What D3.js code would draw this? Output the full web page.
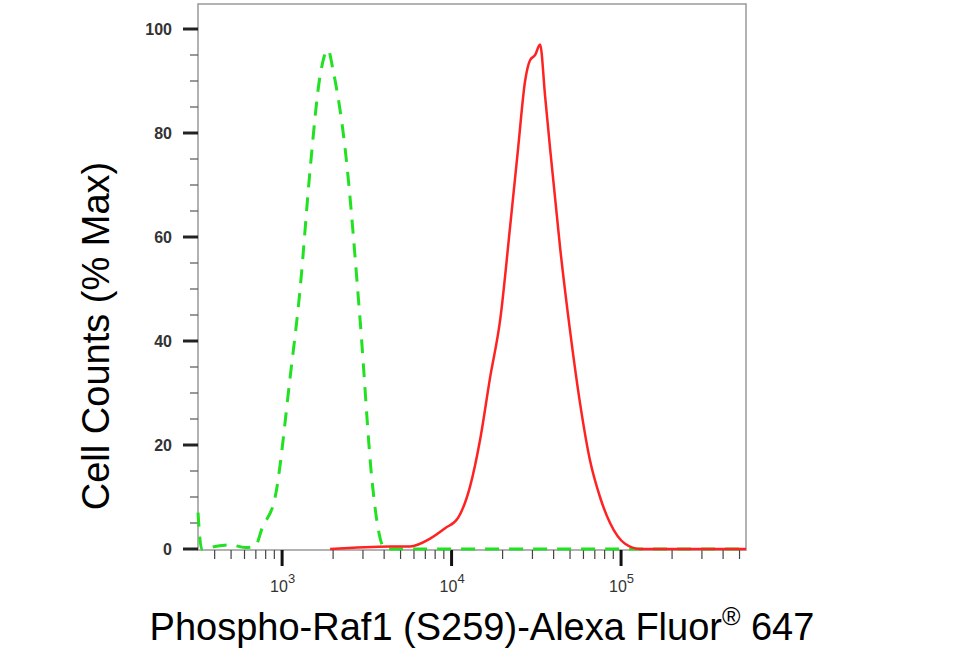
<!DOCTYPE html>
<html><head><meta charset="utf-8">
<script src="https://cdn.jsdelivr.net/npm/d3@7"></script>
<style>body{margin:0;background:#fff}</style>
</head><body><div id="chartArea"></div>
<script>
const greenX = [319, 335, 403, 493, 605, 693, 762, 910, 1115, 1277, 1463, 1676, 1867, 2000, 2354, 2886, 3397, 3684, 4055, 546000];
const greenY = [7, 0, 0.5, 0.8, 0.3, 0.5, 4, 10, 33, 50, 73, 91, 96, 92, 77, 44, 13, 4, 0, 0];
const redX = [1920, 4340, 5690, 7470, 9160, 10920, 12850, 14730, 16880, 19340, 22150, 24680, 27150, 29040, 31100, 33280, 35650, 38130, 43660, 50000, 57300, 65600, 75100, 86100, 105600, 129400, 546000];
const redY = [0, 0.5, 0.5, 2, 4, 6, 12, 21, 33, 44, 62, 77, 90, 94, 95, 97, 87, 77, 58, 42, 28, 17, 10, 5, 1, 0, 0];
const yMajor = [0, 20, 40, 60, 80, 100];
const xMajor = [1e3, 1e4, 1e5];
const xMinor = [4e2,5e2,6e2,7e2,8e2,9e2,2e3,3e3,4e3,5e3,6e3,7e3,8e3,9e3,2e4,3e4,4e4,5e4,6e4,7e4,8e4,9e4,2e5,3e5,4e5,5e5];

let width = 956, height = 658;
let plotL = 198, plotR = 746, plotT = 4, plotB = 550;

let x = d3.scaleLog().domain([319, 546000]).range([plotL, plotR]);
let y = d3.scaleLinear().domain([0, 100]).range([549, 29]);

let svg = d3.select('#chartArea').append('svg')
    .attr('width', width).attr('height', height)
    .style('font-family', 'Arial, Liberation Sans, sans-serif');

// frame
svg.append('rect').attr('x', plotL).attr('y', plotT)
    .attr('width', plotR - plotL).attr('height', plotB - plotT)
    .attr('fill', 'none').attr('stroke', '#999').attr('stroke-width', 1.5);

// y ticks
let yMinor = d3.range(0, 101, 5).filter(d => d % 20 !== 0);
svg.selectAll('.ymin').data(yMinor).enter().append('line')
    .attr('x1', plotL - 8).attr('x2', plotL)
    .attr('y1', d => y(d)).attr('y2', d => y(d))
    .attr('stroke', '#555').attr('stroke-width', 1.2);
svg.selectAll('.ymaj').data(yMajor).enter().append('line')
    .attr('x1', plotL - 15).attr('x2', plotL)
    .attr('y1', d => y(d)).attr('y2', d => y(d))
    .attr('stroke', '#222').attr('stroke-width', 3);
svg.selectAll('.ylab').data(yMajor).enter().append('text')
    .attr('x', plotL - 26).attr('y', d => y(d) + 6)
    .attr('text-anchor', 'end').attr('font-size', 16).attr('font-weight', 'bold').attr('fill', '#333')
    .text(d => d);

// x ticks
svg.selectAll('.xmin').data(xMinor).enter().append('line')
    .attr('x1', d => x(d)).attr('x2', d => x(d))
    .attr('y1', plotB).attr('y2', plotB + 9)
    .attr('stroke', '#444').attr('stroke-width', 1.2);
svg.selectAll('.xmaj').data(xMajor).enter().append('line')
    .attr('x1', d => x(d)).attr('x2', d => x(d))
    .attr('y1', plotB).attr('y2', plotB + 16)
    .attr('stroke', '#111').attr('stroke-width', 3);
let xl = svg.selectAll('.xlab').data(xMajor).enter().append('text')
    .attr('x', d => x(d) - 12).attr('y', 592)
    .attr('font-size', 16).attr('fill', '#333');
xl.append('tspan').text('10');
xl.append('tspan').attr('dy', -9).attr('font-size', 13).text(d => Math.round(Math.log10(d)));

// curves
let line = d3.line().x(d => x(d[0])).y(d => y(d[1])).curve(d3.curveMonotoneX);
svg.append('path').datum(greenX.map((v, i) => [v, greenY[i]]))
    .attr('d', line).attr('fill', 'none').attr('stroke', '#22e022')
    .attr('stroke-width', 3).attr('stroke-dasharray', '14,10');
svg.append('path').datum(redX.map((v, i) => [v, redY[i]]))
    .attr('d', line).attr('fill', 'none').attr('stroke', '#f22')
    .attr('stroke-width', 2.5);

// titles
let xt = svg.append('text').attr('x', 482).attr('y', 640)
    .attr('text-anchor', 'middle').attr('font-size', 38).attr('fill', '#000');
xt.append('tspan').text('Phospho-Raf1 (S259)-Alexa Fluor');
xt.append('tspan').attr('dy', -15).attr('font-size', 25).text('®');
xt.append('tspan').attr('dy', 15).text(' 647');
svg.append('text').attr('transform', 'translate(109,336) rotate(-90)')
    .attr('text-anchor', 'middle').attr('font-size', 38).attr('fill', '#000')
    .text('Cell Counts (% Max)');
</script></body></html>
